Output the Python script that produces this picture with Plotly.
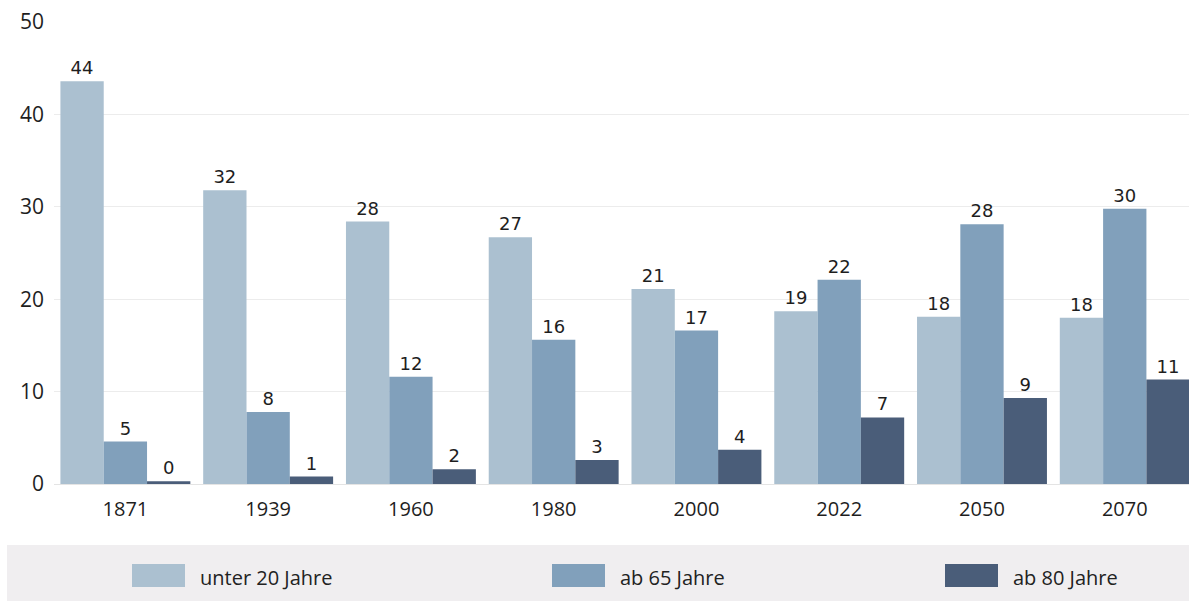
import plotly.graph_objects as go

years = ["1871", "1939", "1960", "1980", "2000", "2022", "2050", "2070"]
series_names = ["unter 20 Jahre", "ab 65 Jahre", "ab 80 Jahre"]
under20 = [43.6, 31.8, 28.4, 26.7, 21.1, 18.7, 18.1, 18.0]
over65 = [4.6, 7.8, 11.6, 15.6, 16.6, 22.1, 28.1, 29.8]
over80 = [0.3, 0.8, 1.6, 2.6, 3.7, 7.2, 9.3, 11.3]
colors = ["#abc0d0", "#81a0bb", "#4a5d79"]
y_ticks = [0, 10, 20, 30, 40, 50]

W, H = 1189, 601
ML, MR, MT, MB = 54, 0, 22, 117

FONT = "Open Sans"

fig = go.Figure()
for name, vals, col in zip(series_names, [under20, over65, over80], colors):
    fig.add_trace(go.Bar(
        x=years, y=vals, name=name, marker_color=col, marker_line_width=0,
        text=[str(round(v)) for v in vals], textposition="outside",
        textfont=dict(family="DejaVu Sans", size=18, color="#1e1e1e"),
        cliponaxis=False, constraintext="none", showlegend=False,
    ))

# custom legend band (coordinates in page pixels)
pw = W - ML - MR
ph = H - MT - MB
def px(x):
    return (x - ML) / pw
def py(y):
    return (H - MB - y) / ph

shapes = [dict(type="rect", xref="paper", yref="paper", x0=px(7), x1=px(1200),
               y0=py(545), y1=py(610), fillcolor="#f0eef0", line_width=0, layer="below")]
annotations = []
sw_x = [132, 552, 945]
for name, col, x0 in zip(series_names, colors, sw_x):
    shapes.append(dict(type="rect", xref="paper", yref="paper", x0=px(x0), x1=px(x0 + 53),
                       y0=py(564), y1=py(587), fillcolor=col, line_width=0))
    annotations.append(dict(xref="paper", yref="paper", x=px(x0 + 66), y=py(577),
                            text=name, showarrow=False, xanchor="left", yanchor="middle",
                            font=dict(family=FONT, size=20, color="#222222")))

fig.update_layout(
    width=W, height=H, barmode="group", bargap=0.09, bargroupgap=0,
    margin=dict(l=ML, r=MR, t=MT, b=MB, pad=0),
    paper_bgcolor="white", plot_bgcolor="white",
    font=dict(family=FONT, size=19, color="#222222"),
    shapes=shapes, annotations=annotations,
    xaxis=dict(range=[-0.5, 7.45], showgrid=False, ticks="", showline=False,
               ticklabelstandoff=11,
               tickfont=dict(family=FONT, size=20, color="#1e1e1e")),
    yaxis=dict(range=[0, 50], tickvals=y_ticks, showgrid=True, gridcolor="#ececec",
               gridwidth=1, zeroline=True, zerolinecolor="#e4e4e4", zerolinewidth=1,
               ticks="", ticklabelstandoff=9,
               tickfont=dict(family=FONT, size=21, color="#1e1e1e")),
)

fig.write_html(
    "out.html",
    config={"displayModeBar": False},
    post_script="document.body.style.margin='0';document.body.style.overflow='hidden';",
)
